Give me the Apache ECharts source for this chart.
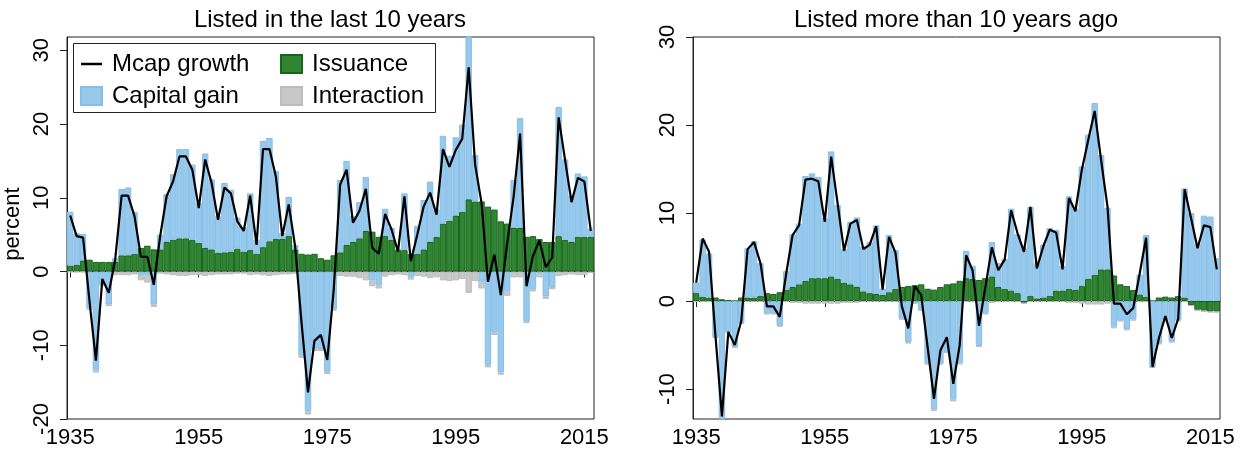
<!DOCTYPE html>
<html style="height: 100%">
  <head>
  <meta charset="utf-8">
    <script type="text/javascript" src="https://cdn.jsdelivr.net/npm/echarts@6.0.0/dist/echarts.min.js"></script>
  </head>
  <body style="width: 100%; height: 100%; margin: 0; background: #fff">
  <div id="main" style="width: 1247px; height: 454px;"></div>
  <script type="text/javascript">

// years 1935..2016, one bar per year
var years = [];
for (var y = 1935; y <= 2016; y++) years.push(String(y));
var yearTicks = ['1935', '1955', '1975', '1995', '2015'];

// left panel: listed in the last 10 years
var issuanceNew = [
  0.8, 0.9, 1.5, 1.6, 1.3, 1.3, 1.3, 1.3, 2.2, 2.2,
  2.4, 3.2, 3.5, 3.0, 3.0, 4.0, 4.3, 4.5, 4.5, 4.3,
  3.9, 3.2, 3.0, 2.5, 2.6, 2.7, 3.1, 2.7, 2.9, 2.4,
  3.3, 4.1, 4.4, 4.4, 4.8, 3.0, 2.4, 2.3, 2.4, 1.8,
  1.6, 2.2, 2.6, 3.6, 4.0, 4.5, 5.5, 5.4, 4.7, 4.8,
  4.3, 2.9, 2.9, 2.4, 2.4, 3.0, 4.0, 4.7, 6.5, 6.9,
  7.6, 8.1, 9.8, 9.5, 9.5, 8.8, 8.4, 6.8, 6.5, 5.9,
  5.9, 4.7, 4.8, 4.4, 4.0, 4.0, 4.8, 4.3, 4.0, 4.7,
  4.7, 4.7
];
var capGainNew = [
  7.3, 4.3, 3.6, -5.0, -13.4, -1.8, -4.5, 0.5, 9.0, 9.2,
  5.7, -0.5, -0.5, -4.5, 2.0, 6.5, 8.9, 12.1, 12.1, 10.2,
  5.4, 12.8, 9.5, 5.0, 9.4, 8.4, 4.2, 3.3, 7.7, 1.9,
  14.4, 14.0, 9.2, 0.8, 5.3, 0.6, -11.4, -19.0, -10.5, -10.5,
  -13.6, -5.1, 9.8, 11.4, 3.5, 4.9, 7.3, -1.2, -1.9, 3.7,
  1.6, 0.2, 7.7, -0.8, 3.8, 6.7, 8.2, 3.7, 11.9, 8.8,
  10.6, 11.8, 23.0, 6.3, -1.5, -12.7, -8.3, -13.7, -2.7, 6.5,
  14.9, -6.8, -2.4, -0.3, -3.4, -2.1, 17.5, 10.9, 6.3, 8.6,
  8.2, 1.1
];
var interactNew = [
  -0.1, -0.1, -0.1, -0.2, -0.3, -0.2, -0.2, -0.5, -0.5, -0.5,
  -0.4, -0.7, -1.0, -0.3, -0.3, -0.4, -0.5, -0.6, -0.6, -0.5,
  -0.5, -0.6, -0.5, -0.4, -0.4, -0.4, -0.3, -0.3, -0.5, -0.4,
  -0.5, -0.6, -0.5, -0.4, -0.4, -0.3, -0.3, -0.4, -0.3, -0.3,
  -0.3, -0.2, -0.6, -0.7, -0.7, -0.9, -1.2, -0.8, -0.4, -0.7,
  -0.5, -0.4, -0.5, -0.3, -0.6, -0.7, -0.9, -0.8, -1.2, -1.3,
  -1.2, -1.0, -2.9, -1.3, -0.8, -0.3, -0.3, -0.3, -0.6, -0.8,
  -0.8, -0.2, -0.3, -0.5, -0.3, -0.3, -0.6, -0.5, -0.4, -0.5,
  -0.5, -0.2
];
var mcapNew = [
  7.6, 4.8, 4.6, -4.0, -12.1, -1.0, -2.9, 1.6, 10.3, 10.3,
  7.5, 2.0, 2.0, -1.8, 4.8, 10.2, 12.2, 15.6, 15.6, 13.8,
  8.6, 15.2, 12.0, 7.0, 11.4, 10.6, 6.8, 5.5, 10.3, 3.6,
  16.6, 16.6, 12.9, 4.8, 9.1, 3.4, -7.0, -16.4, -9.4, -8.6,
  -12.0, -2.5, 11.8, 13.8, 6.6, 8.2, 11.2, 3.2, 2.4, 7.8,
  5.7, 2.7, 10.2, 1.4, 5.0, 8.8, 10.7, 7.7, 16.6, 14.2,
  16.5, 18.0, 27.7, 14.5, 9.3, -1.4, 2.3, -3.2, 3.9, 10.2,
  18.7, -2.0, 2.1, 4.2, 0.6, 1.9, 20.9, 15.1, 9.4, 12.7,
  12.2, 5.5
];

// right panel: listed more than 10 years ago
var issuanceOld = [
  0.9, 0.5, 0.4, 0.4, 0.2, 0.1, 0.0, 0.4, 0.4, 0.4,
  0.6, 0.9, 0.8, 1.0, 1.3, 1.6, 1.9, 2.3, 2.6, 2.6,
  2.6, 2.8, 2.5, 2.1, 1.9, 1.6, 1.1, 0.9, 0.8, 0.7,
  1.0, 1.4, 1.6, 1.7, 1.8, 1.9, 1.4, 1.3, 1.6, 1.9,
  2.0, 2.3, 2.6, 2.5, 2.4, 2.6, 2.8, 1.6, 1.4, 1.2,
  0.9, -0.2, 0.6, 0.3, 0.4, 0.6, 1.2, 1.2, 1.4, 1.25,
  1.7, 2.5, 3.0, 3.6, 3.6, 2.9, 1.9, 1.7, 1.25, 0.75,
  0.5, 0.0, 0.4, 0.5, 0.4, 0.55, 0.4, -0.45, -1.0, -1.1,
  -1.2, -1.2
];
var capGainOld = [
  1.2, 6.5, 5.0, -4.1, -13.6, -3.5, -5.2, -2.5, 5.6, 6.4,
  3.7, -1.4, -1.4, -2.8, 2.1, 6.0, 6.9, 11.9, 11.9, 11.5,
  6.8, 14.2, 8.4, 3.8, 7.1, 7.9, 5.1, 5.8, 7.8, 0.7,
  6.5, 4.4, -2.0, -4.7, -0.2, -1.0, -7.1, -12.3, -7.1, -5.8,
  -11.2, -7.0, 3.1, 1.5, -5.1, -1.4, 3.9, 2.7, 3.4, 9.3,
  6.7, 6.0, 10.1, 4.0, 6.0, 7.7, 6.9, 2.8, 10.5, 9.25,
  13.6, 16.4, 19.5, 13.0, 7.0, -2.9, -2.2, -3.2, -2.1, 2.25,
  7.0, -7.5, -4.8, -2.2, -4.6, -2.2, 12.4, 10.0, 6.5, 9.7,
  9.6, 4.85
];
var interactOld = [
  -0.1, -0.1, -0.1, -0.1, -0.2, -0.1, -0.1, -0.1, -0.1, -0.1,
  -0.1, -0.1, -0.1, -0.1, -0.1, -0.2, -0.2, -0.3, -0.3, -0.3,
  -0.3, -0.3, -0.3, -0.2, -0.2, -0.2, -0.1, -0.1, -0.1, -0.1,
  -0.1, -0.1, -0.1, -0.1, -0.1, -0.1, -0.1, -0.2, -0.1, -0.1,
  -0.2, -0.2, -0.1, -0.1, -0.1, -0.1, -0.2, -0.1, -0.1, -0.1,
  -0.1, -0.1, -0.1, -0.1, -0.1, -0.1, -0.1, -0.1, -0.2, -0.2,
  -0.3, -0.4, -0.4, -0.4, -0.3, -0.2, -0.1, -0.1, -0.1, -0.1,
  -0.1, -0.1, -0.1, -0.1, -0.1, -0.1, -0.1, -0.1, -0.1, -0.1,
  -0.1, -0.1
];
var mcapOld = [
  2.1, 7.1, 5.6, -4.0, -13.1, -3.5, -5.0, -2.3, 5.9, 6.7,
  4.3, -0.6, -0.6, -1.8, 3.1, 7.5, 8.6, 13.8, 13.9, 13.6,
  9.0, 16.4, 11.1, 5.7, 8.8, 9.2, 5.9, 6.4, 8.5, 1.3,
  7.3, 5.5, -0.6, -3.1, 1.7, 0.7, -5.2, -11.1, -5.6, -4.1,
  -9.4, -5.0, 5.2, 3.5, -2.8, 1.6, 6.1, 3.5, 4.7, 10.3,
  7.7, 5.6, 10.7, 3.7, 6.2, 8.1, 7.8, 3.6, 11.7, 10.2,
  14.9, 18.3, 21.6, 16.0, 10.7, -0.3, -0.3, -1.5, -0.8, 3.1,
  7.2, -7.5, -4.2, -1.7, -4.2, -2.0, 12.7, 9.4, 6.0, 8.6,
  8.4, 3.6
];

var FONT = '"Liberation Sans", Arial, sans-serif';
var GREEN = '#2f8531', GREEN_EDGE = '#17641a';
var BLUE = '#97c9ed', BLUE_EDGE = '#86bee8';
var GREY = '#c8c8c8';

var myChart = echarts.init(document.getElementById('main'));

var isTick = function(idx, val) {
    return yearTicks.indexOf(val) >= 0;
};

var makeX = function(gi) {
    return {
        type: 'category', gridIndex: gi, data: years,
        axisLine: {show: true, lineStyle: {color: '#222', width: 1}},
        axisTick: {show: true, interval: isTick, alignWithLabel: true, length: 6, lineStyle: {color: '#222'}},
        axisLabel: {interval: isTick, fontSize: 22, color: '#000', fontFamily: FONT, margin: 8},
        splitLine: {show: false}
    };
};

var makeY = function(gi, min, max, ticks) {
    return {
        type: 'value', gridIndex: gi, min: min, max: max,
        axisLine: {show: true, lineStyle: {color: '#222', width: 1}},
        axisTick: {show: true, length: 7, customValues: ticks, lineStyle: {color: '#222'}},
        axisLabel: {rotate: 90, customValues: ticks, fontSize: 22, color: '#000', fontFamily: FONT, margin: 14},
        splitLine: {show: false}
    };
};

// stacked bars (positives up, negatives down) + line on top
var makeSeries = function(gi, iss, cg, inter, mcap) {
    var st = 'panel' + gi;
    return [
        {name: 'Issuance', type: 'bar', xAxisIndex: gi, yAxisIndex: gi, stack: st, data: iss,
         barCategoryGap: '0%', itemStyle: {color: GREEN, borderColor: GREEN_EDGE, borderWidth: 1}},
        {name: 'Capital gain', type: 'bar', xAxisIndex: gi, yAxisIndex: gi, stack: st, data: cg,
         itemStyle: {color: BLUE, borderColor: BLUE_EDGE, borderWidth: 1}},
        {name: 'Interaction', type: 'bar', xAxisIndex: gi, yAxisIndex: gi, stack: st, data: inter,
         itemStyle: {color: GREY, borderColor: '#bdbdbd', borderWidth: 1}},
        {name: 'Mcap growth', type: 'line', xAxisIndex: gi, yAxisIndex: gi, data: mcap,
         symbol: 'none', z: 5, lineStyle: {color: '#000', width: 2.2}, itemStyle: {color: '#000'}}
    ];
};

var legendText = {fontSize: 24, fontFamily: FONT, color: '#000', padding: [0, 0, 0, 5]};
// plain black stroke for the line entry
var lineIcon = 'path://M0,0 L22,0 L22,2.6 L0,2.6 Z';

var option = {
    animation: false,
    backgroundColor: '#fff',
    grid: [
        {left: 67, top: 37, width: 527, height: 382, show: true, borderColor: '#222', borderWidth: 1},
        {left: 693, top: 37, width: 527, height: 382, show: true, borderColor: '#222', borderWidth: 1}
    ],
    xAxis: [makeX(0), makeX(1)],
    yAxis: [
        makeY(0, -20, 31.8, [-20, -10, 0, 10, 20, 30]),
        makeY(1, -13.4, 30, [-10, 0, 10, 20, 30])
    ],
    legend: [
        {orient: 'vertical', left: 80, top: 52, padding: 0, itemGap: 8, itemWidth: 21, itemHeight: 18,
         selectedMode: false, z: 10, textStyle: legendText,
         data: [{name: 'Mcap growth', icon: lineIcon}, {name: 'Capital gain', icon: 'rect'}]},
        {orient: 'vertical', left: 280, top: 52, padding: 0, itemGap: 8, itemWidth: 21, itemHeight: 18,
         selectedMode: false, z: 10, textStyle: legendText,
         data: [{name: 'Issuance', icon: 'rect'}, {name: 'Interaction', icon: 'rect'}]}
    ],
    graphic: [
        {type: 'rect', z: 5, shape: {x: 73.5, y: 43.5, width: 362, height: 69},
         style: {fill: '#fff', stroke: '#222', lineWidth: 1}},
        {type: 'text', x: 330, y: 20,
         style: {text: 'Listed in the last 10 years', font: '24px ' + FONT, fill: '#000', textAlign: 'center', verticalAlign: 'middle'}},
        {type: 'text', x: 956, y: 20,
         style: {text: 'Listed more than 10 years ago', font: '24px ' + FONT, fill: '#000', textAlign: 'center', verticalAlign: 'middle'}},
        {type: 'text', x: 13, y: 224, rotation: Math.PI / 2,
         style: {text: 'percent', font: '22px ' + FONT, fill: '#000', textAlign: 'center', verticalAlign: 'middle'}}
    ],
    series: makeSeries(0, issuanceNew, capGainNew, interactNew, mcapNew)
        .concat(makeSeries(1, issuanceOld, capGainOld, interactOld, mcapOld))
};

myChart.setOption(option);

  </script>
  </body>
</html>
